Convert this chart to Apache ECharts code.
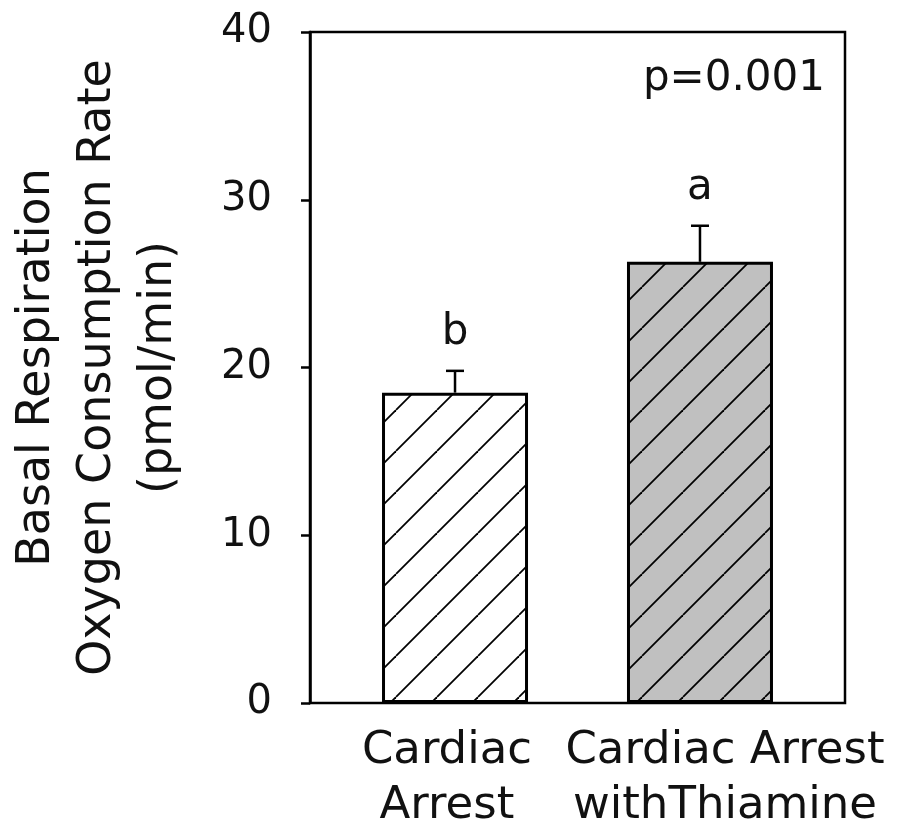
<!DOCTYPE html>
<html>
<head>
<meta charset="utf-8">
<script src="https://cdn.jsdelivr.net/npm/echarts@6/dist/echarts.min.js"></script>
<style>
html,body{margin:0;padding:0;background:#fff;}
#chart{width:899px;height:830px;}
</style>
</head>
<body>
<div id="chart"></div>
<script>
// ---- data ----
const categories = ['Cardiac\nArrest', 'Cardiac Arrest\nwithThiamine'];
const positions = [1, 2];
const labelPositions = [0.967, 2.102];
const means = [18.5, 26.3];
const errors = [1.3, 2.15];
const letters = ['b', 'a'];
const yTicks = [0, 10, 20, 30, 40];
const pText = 'p=0.001';

const FONT = '"DejaVu Sans", sans-serif';
const TEXT = '#111';

function makePattern(bg) {
  const s = 41;
  const c = document.createElement('canvas');
  c.width = s; c.height = s;
  const g = c.getContext('2d');
  g.fillStyle = bg;
  g.fillRect(0, 0, s, s);
  g.strokeStyle = '#000';
  g.lineWidth = 1.8;
  for (let k = -1; k <= 1; k++) {
    g.beginPath();
    g.moveTo(k * s, s);
    g.lineTo(k * s + s, 0);
    g.stroke();
  }
  return { image: c, repeat: 'repeat', x: 27, y: 0 };
}
const fills = [makePattern('#ffffff'), makePattern('#c0c0c0')];

const chart = echarts.init(document.getElementById('chart'), null, { renderer: 'canvas' });

const barData = positions.map((p, i) => ({
  value: [p, means[i]],
  itemStyle: { color: fills[i] }
}));
const errData = positions.map((p, i) => [p, means[i], errors[i]]);
const letterData = positions.map((p, i) => [p, means[i] + errors[i]]);

chart.setOption({
  animation: false,
  backgroundColor: '#fff',
  grid: {
    left: 310, right: 54, top: 32, bottom: 127,
    containLabel: false,
    outerBoundsMode: 'none',
    show: true, borderColor: '#000', borderWidth: 2.5, backgroundColor: 'transparent'
  },
  xAxis: {
    type: 'value',
    min: 0.408, max: 2.592,
    axisLine: { show: false },
    axisTick: { show: false },
    splitLine: { show: false },
    axisLabel: {
      customValues: labelPositions,
      margin: 21,
      fontFamily: FONT,
      fontSize: 45,
      lineHeight: 55,
      color: TEXT,
      formatter: function (v) {
        let best = 0;
        labelPositions.forEach((p, i) => { if (Math.abs(p - v) < Math.abs(labelPositions[best] - v)) best = i; });
        return Math.abs(labelPositions[best] - v) < 1e-6 ? categories[best] : '';
      }
    }
  },
  yAxis: {
    type: 'value',
    min: yTicks[0], max: yTicks[yTicks.length - 1], interval: 10,
    axisLine: { show: true, lineStyle: { color: '#000', width: 2.5 } },
    axisTick: { show: true, inside: false, length: 9, lineStyle: { color: '#000', width: 2.5 } },
    splitLine: { show: false },
    axisLabel: { fontFamily: FONT, fontSize: 40, color: TEXT, margin: 38 },
    name: 'Basal Respiration\nOxygen Consumption Rate\n(pmol/min)',
    nameLocation: 'middle',
    nameRotate: 90,
    nameGap: 120,
    nameTextStyle: { fontFamily: FONT, fontSize: 46, color: TEXT, lineHeight: 61, align: 'center' }
  },
  series: [
    {
      type: 'bar',
      data: barData,
      barWidth: 146,
      itemStyle: { borderColor: '#000', borderWidth: 3 },
      z: 2
    },
    {
      type: 'custom',
      data: errData,
      z: 3,
      renderItem: function (params, api) {
        const x = api.value(0), m = api.value(1), e = api.value(2);
        const b = api.coord([x, m]);
        const t = api.coord([x, m + e]);
        const style = { stroke: '#000', lineWidth: 2.5 };
        return {
          type: 'group',
          children: [
            { type: 'line', shape: { x1: b[0], y1: b[1], x2: t[0], y2: t[1] }, style: style },
            { type: 'line', shape: { x1: t[0] - 9, y1: t[1], x2: t[0] + 9, y2: t[1] }, style: style }
          ]
        };
      }
    },
    {
      type: 'scatter',
      data: letterData,
      symbolSize: 1,
      silent: true,
      itemStyle: { opacity: 1, color: 'rgba(0,0,0,0)' },
      label: {
        show: true,
        position: 'top',
        distance: 16,
        fontFamily: FONT,
        fontSize: 42,
        color: TEXT,
        opacity: 1,
        formatter: function (p) { return letters[p.dataIndex]; }
      }
    }
  ],
  graphic: [
    {
      type: 'text',
      right: 74,
      top: 58,
      style: { text: pText, fontFamily: FONT, fontSize: 42, fill: TEXT }
    }
  ]
});
</script>
</body>
</html>
